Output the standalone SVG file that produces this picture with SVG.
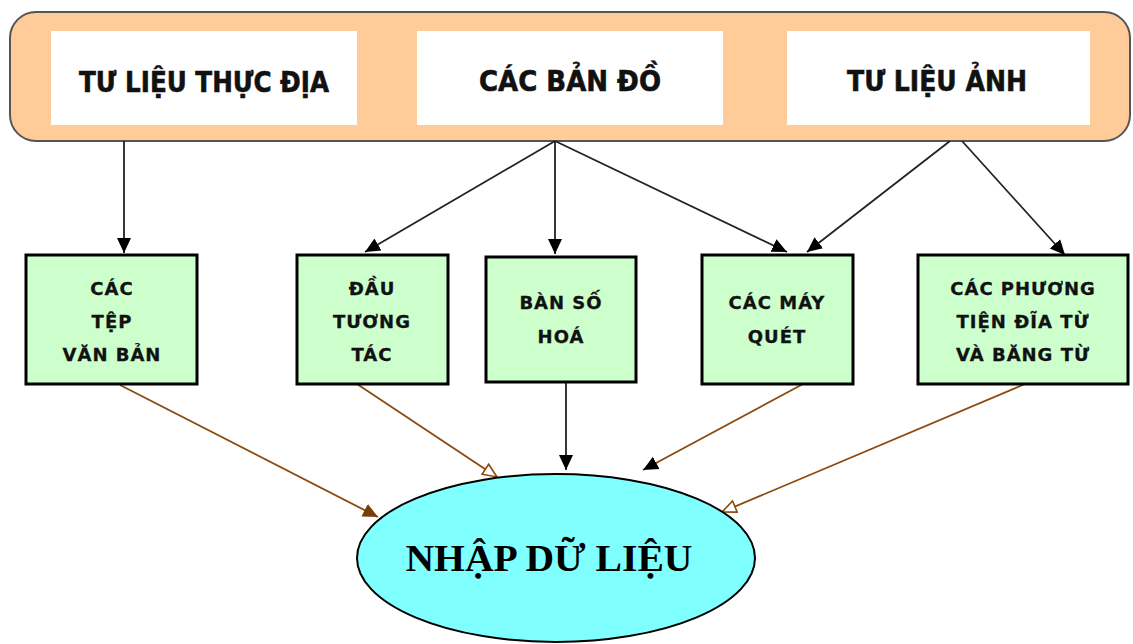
<svg xmlns="http://www.w3.org/2000/svg" width="1133" height="644" viewBox="0 0 1133 644">
<style>
.panel{fill:#FFCC99;stroke:#555;stroke-width:2}
.src{fill:#FFFFFF;stroke:none}
.srct{font-family:"DejaVu Sans","Liberation Sans",sans-serif;font-weight:bold;font-size:28px;fill:#111;text-anchor:middle;stroke:#111;stroke-width:0.6}
.box{fill:#CCFFCC;stroke:#000;stroke-width:3}
.bt{font-family:"DejaVu Sans","Liberation Sans",sans-serif;font-weight:bold;font-size:18px;fill:#111;text-anchor:middle;letter-spacing:1px;stroke:#111;stroke-width:0.3}
.ell{fill:#80FFFF;stroke:#000;stroke-width:2}
.et{font-family:"Liberation Serif","Times New Roman",serif;font-weight:bold;font-size:37px;fill:#000;text-anchor:middle}
.k{stroke:#222;stroke-width:1.8;fill:none}
.b{stroke:#8B4A0F;stroke-width:1.8;fill:none}
</style>
<defs>
<marker id="ak" markerUnits="userSpaceOnUse" markerWidth="18" markerHeight="16" refX="15" refY="8" orient="auto"><path d="M0,1 L15,8 L0,15 z" fill="#000"/></marker>
<marker id="abf" markerUnits="userSpaceOnUse" markerWidth="18" markerHeight="16" refX="15" refY="8" orient="auto"><path d="M0,1 L15,8 L0,15 z" fill="#7A3E05"/></marker>
<marker id="abo" markerUnits="userSpaceOnUse" markerWidth="18" markerHeight="16" refX="15" refY="8" orient="auto"><path d="M1,2 L15,8 L1,14 z" fill="#fff" stroke="#8B4A0F" stroke-width="1.6"/></marker>
</defs>
<g id="sources">
<rect class="panel" x="10" y="12" width="1120" height="129" rx="26"/>
<g id="tu-lieu-thuc-dia"><rect class="src" x="51" y="31" width="306" height="94"/><text class="srct" x="204" y="92" textLength="250" lengthAdjust="spacingAndGlyphs">TƯ LIỆU THỰC ĐỊA</text></g>
<g id="cac-ban-do"><rect class="src" x="417" y="31" width="306" height="94"/><text class="srct" x="570" y="91" textLength="182" lengthAdjust="spacingAndGlyphs">CÁC BẢN ĐỒ</text></g>
<g id="tu-lieu-anh"><rect class="src" x="787" y="31" width="303" height="94"/><text class="srct" x="937" y="91" textLength="180" lengthAdjust="spacingAndGlyphs">TƯ LIỆU ẢNH</text></g>
</g>
<g id="connectors">
<path class="k" d="M124,141 L124,253" marker-end="url(#ak)"/>
<path class="k" d="M555,141 L365,252" marker-end="url(#ak)"/>
<path class="k" d="M555,141 L555,254" marker-end="url(#ak)"/>
<path class="k" d="M555,141 L787,252" marker-end="url(#ak)"/>
<path class="k" d="M950,141 L807,252" marker-end="url(#ak)"/>
<path class="k" d="M962,141 L1065,255" marker-end="url(#ak)"/>
<path class="b" d="M120,385 L378,517" marker-end="url(#abf)"/>
<path class="b" d="M357,384 L497,477" marker-end="url(#abo)"/>
<path class="k" d="M566,383 L566,470" marker-end="url(#ak)"/>
<path class="b" d="M803,384 L643,470" marker-end="url(#ak)"/>
<path class="b" d="M1025,384 L722,512" marker-end="url(#abo)"/>
</g>
<g id="cac-tep-van-ban"><rect class="box" x="26" y="255" width="171" height="129"/>
<text class="bt" x="112" y="295">CÁC</text><text class="bt" x="112" y="328">TỆP</text><text class="bt" x="112" y="361">VĂN BẢN</text></g>
<g id="dau-tuong-tac"><rect class="box" x="297" y="255" width="151" height="129"/>
<text class="bt" x="372" y="295">ĐẦU</text><text class="bt" x="372" y="328">TƯƠNG</text><text class="bt" x="372" y="361">TÁC</text></g>
<g id="ban-so-hoa"><rect class="box" x="486" y="257" width="150" height="125"/>
<text class="bt" x="561" y="309">BÀN SỐ</text><text class="bt" x="561" y="343">HOÁ</text></g>
<g id="cac-may-quet"><rect class="box" x="702" y="255" width="151" height="129"/>
<text class="bt" x="777" y="309">CÁC MÁY</text><text class="bt" x="777" y="343">QUÉT</text></g>
<g id="cac-phuong-tien"><rect class="box" x="918" y="255" width="210" height="129"/>
<text class="bt" x="1023" y="295">CÁC PHƯƠNG</text><text class="bt" x="1023" y="328">TIỆN ĐĨA TỪ</text><text class="bt" x="1023" y="361">VÀ BĂNG TỪ</text></g>
<g id="nhap-du-lieu"><ellipse class="ell" cx="556" cy="558" rx="199" ry="84"/>
<text class="et" x="549" y="571" textLength="287" lengthAdjust="spacingAndGlyphs">NHẬP DỮ LIỆU</text></g>
</svg>
